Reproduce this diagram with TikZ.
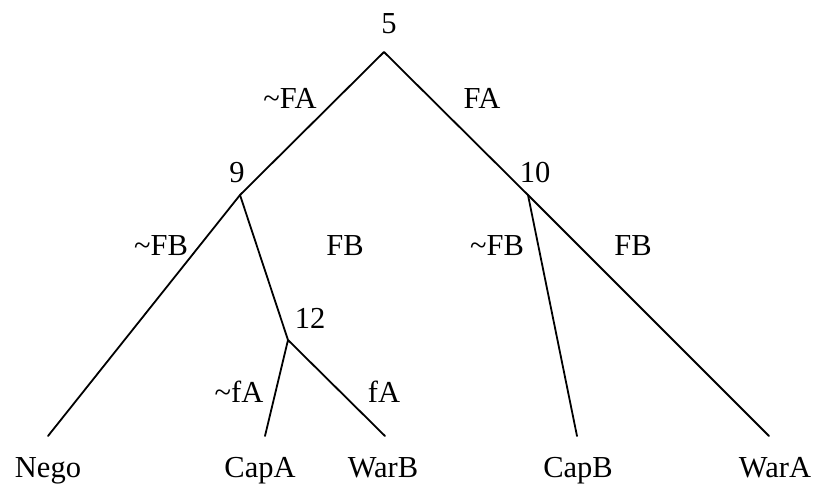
\documentclass[tikz,border=0pt]{standalone}
\usepackage{fontspec}
\setmainfont{Liberation Serif}
\begin{document}
\begin{tikzpicture}[x=1pt,y=-1pt,line join=round,line cap=round,font=\fontsize{30.5}{36}\selectfont]
            \tikzset{lbl/.style={anchor=base,inner sep=0pt}, branch/.style={line width=1.8pt}}
            \def\leafy{436} % y of the leaf ends
            \useasboundingbox (0,0) rectangle (815,483);
            % decision points
            \coordinate (n5) at (384,52);
            \coordinate (n9) at (240,195);
            \coordinate (n10) at (528,195);
            \coordinate (n12) at (288,340);
            % leaf ends
            \coordinate (eNego) at (48,\leafy);
            \coordinate (eCapA) at (265,\leafy);
            \coordinate (eWarB) at (385,\leafy);
            \coordinate (eCapB) at (577,\leafy);
            \coordinate (eWarA) at (769,\leafy);
            % branches
            \draw[branch] (eNego) -- (n9) -- (n5) -- (n10) -- (eWarA);
            \draw[branch] (n9) -- (n12) -- (eCapA) (n12) -- (eWarB);
            \draw[branch] (n10) -- (eCapB);
            % node numbers
            \node[lbl] (t5) at (389,33) {5};
            \node[lbl] (t9) at (237,182) {9};
            \node[lbl] (t10) at (535,182) {10};
            \node[lbl] (t12) at (310,328) {12};
            % moves
            \node[lbl] (mFAn) at (290,108) {\textasciitilde FA};
            \node[lbl] (mFA) at (482,108) {FA};
            \node[lbl] (mFBnL) at (161,255) {\textasciitilde FB};
            \node[lbl] (mFBL) at (345,255) {FB};
            \node[lbl] (mFBnR) at (497,255) {\textasciitilde FB};
            \node[lbl] (mFBR) at (633,255) {FB};
            \node[lbl] (mfAn) at (239,402) {\textasciitilde fA};
            \node[lbl] (mfA) at (384,402) {fA};
            % outcomes
            \node[lbl] (Nego) at (48,477) {Nego};
            \node[lbl] (CapA) at (260,477) {CapA};
            \node[lbl] (WarB) at (383,477) {WarB};
            \node[lbl] (CapB) at (578,477) {CapB};
            \node[lbl] (WarA) at (775,477) {WarA};
        \end{tikzpicture}
\end{document}
